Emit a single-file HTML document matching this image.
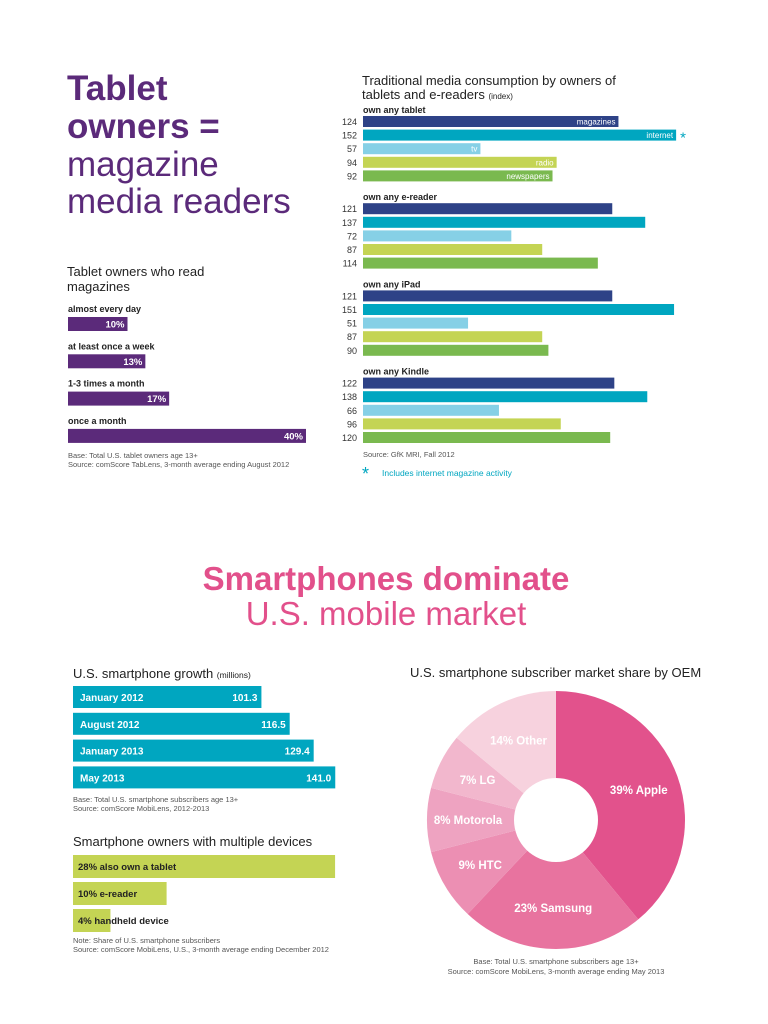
<!DOCTYPE html>
<html><head><meta charset="utf-8"><style>
body{margin:0;background:#fff}
svg{display:block;font-family:"Liberation Sans",sans-serif}
</style></head><body>
<svg id="c" width="768" height="1024" viewBox="0 0 768 1024" xmlns="http://www.w3.org/2000/svg">
<g fill="#5b2a7a" font-size="35">
<text x="67" y="100" font-weight="bold">Tablet</text>
<text x="67" y="138" font-weight="bold">owners =</text>
<text x="67" y="176">magazine</text>
<text x="67" y="213">media readers</text>
</g>
<text x="67" y="276" font-size="13" fill="#222">Tablet owners who read</text>
<text x="67" y="291" font-size="13" fill="#222">magazines</text>
<g id="read"></g>
<text x="68" y="458" font-size="7.5" fill="#555">Base: Total U.S. tablet owners age 13+</text>
<text x="68" y="467" font-size="7.5" fill="#555">Source: comScore TabLens, 3-month average ending August 2012</text>

<text x="362" y="85" font-size="13" fill="#222">Traditional media consumption by owners of</text>
<text x="362" y="99" font-size="13" fill="#222">tablets and e-readers <tspan font-size="8">(index)</tspan></text>
<g id="media"></g>
<text x="363" y="457" font-size="7.5" fill="#555">Source: GfK MRI, Fall 2012</text>
<text x="362" y="480" font-size="18" fill="#00a6c0">*</text>
<text x="382" y="476" font-size="8.5" fill="#00a6c0">Includes internet magazine activity</text>

<text x="386" y="590" text-anchor="middle" font-size="33" font-weight="bold" fill="#e2508b">Smartphones dominate</text>
<text x="386" y="625" text-anchor="middle" font-size="33" fill="#e2508b">U.S. mobile market</text>

<text x="73" y="678" font-size="13" fill="#222">U.S. smartphone growth <tspan font-size="8.5">(millions)</tspan></text>
<g id="growth"></g>
<text x="73" y="802" font-size="7.5" fill="#555">Base: Total U.S. smartphone subscribers age 13+</text>
<text x="73" y="811" font-size="7.5" fill="#555">Source: comScore MobiLens, 2012-2013</text>

<text x="73" y="846" font-size="13" fill="#222">Smartphone owners with multiple devices</text>
<g id="dev"></g>
<text x="73" y="943" font-size="7.5" fill="#555">Note: Share of U.S. smartphone subscribers</text>
<text x="73" y="952" font-size="7.5" fill="#555">Source: comScore MobiLens, U.S., 3-month average ending December 2012</text>

<text x="410" y="677" font-size="13" fill="#222">U.S. smartphone subscriber market share by OEM</text>
<g id="pie"></g>
<text x="556" y="964" text-anchor="middle" font-size="7.5" fill="#555">Base: Total U.S. smartphone subscribers age 13+</text>
<text x="556" y="974" text-anchor="middle" font-size="7.5" fill="#555">Source: comScore MobiLens, 3-month average ending May 2013</text>
</svg>
<script>
const NS="http://www.w3.org/2000/svg";
function mk(p,t,a){const e=document.createElementNS(NS,t);for(const k in a)e.setAttribute(k,a[k]);p.appendChild(e);return e;}
// reading frequency
const readCats=["almost every day","at least once a week","1-3 times a month","once a month"];
const readVals=[10,13,17,40];
// media
const mediaGroups=["own any tablet","own any e-reader","own any iPad","own any Kindle"];
const mediaNames=["magazines","internet","tv","radio","newspapers"];
const mediaVals=[[124,152,57,94,92],[121,137,72,87,114],[121,151,51,87,90],[122,138,66,96,120]];
// growth
const growthCats=["January 2012","August 2012","January 2013","May 2013"];
const growthVals=[101.3,116.5,129.4,141.0];
// devices
const devCats=["also own a tablet","e-reader","handheld device"];
const devVals=[28,10,4];
// pie
const pieCats=["Apple","Samsung","HTC","Motorola","LG","Other"];
const pieVals=[39,23,9,8,7,14];

// reading chart
const rg=document.getElementById('read');
const rx=v=>v*5.95;
readCats.forEach((c,i)=>{
 const y=317+i*37.3;
 let t=mk(rg,'text',{x:68,y:y-5,'font-size':9,'font-weight':'bold',fill:'#222'});t.textContent=c;
 
 
 let r=mk(rg,'rect',{x:68,y:y,width:rx(readVals[i]),height:14,fill:'#5b2a7a'});
 
 
 t=mk(rg,'text',{x:68+rx(readVals[i])-3,y:y+10.5,'font-size':9.5,'font-weight':'bold',fill:'#fff','text-anchor':'end'});t.textContent=readVals[i]+'%';
 
 
});
// media chart
const mg=document.getElementById('media');
const mcol=["#2e4287","#00a6c0","#86d0e6","#c4d454","#7ab94f"];
const mx=v=>v*2.06;
mediaGroups.forEach((g,gi)=>{
 const gy=110+gi*87.2;
 let t=mk(mg,'text',{x:363,y:gy+3,'font-size':9,'font-weight':'bold',fill:'#222'});t.textContent=g;
 
 
 mediaVals[gi].forEach((v,i)=>{
  const y=gy+6+i*13.6;
  let r=mk(mg,'rect',{x:363,y:y,width:mx(v),height:11,fill:mcol[i]});
  
  
  let n=mk(mg,'text',{x:357,y:y+9,'font-size':9,fill:'#333','text-anchor':'end'});n.textContent=v;
  
  
  if(gi===0){
   let l=mk(mg,'text',{x:363+mx(v)-3,y:y+8.5,'font-size':8,fill:'#fff','text-anchor':'end'});l.textContent=mediaNames[i];
   
   
   if(i===1){let a=mk(mg,'text',{x:363+mx(v)+4,y:y+13,'font-size':15,fill:'#00a6c0'});a.textContent='*';
    
    }
  }
 });
});
// growth
const gg=document.getElementById('growth');
const gx=v=>v*1.86;
growthCats.forEach((c,i)=>{
 const y=686+i*26.8;
 let r=mk(gg,'rect',{x:73,y:y,width:gx(growthVals[i]),height:22,fill:'#00a6c0'});
 
 
 let t=mk(gg,'text',{x:80,y:y+15,'font-size':10,'font-weight':'bold',fill:'#fff'});t.textContent=c;
 
 
 t=mk(gg,'text',{x:73+gx(growthVals[i])-4,y:y+15,'font-size':10,'font-weight':'bold',fill:'#fff','text-anchor':'end'});t.textContent=growthVals[i].toFixed(1);
 
 
});
// devices
const dg=document.getElementById('dev');
const dx=v=>v*9.36;
devCats.forEach((c,i)=>{
 const y=855+i*27;
 let r=mk(dg,'rect',{x:73,y:y,width:dx(devVals[i]),height:23,fill:'#c4d454'});
 
 
 let t=mk(dg,'text',{x:78,y:y+15,'font-size':9.5,'font-weight':'bold',fill:'#222'});t.textContent=devVals[i]+'% '+c;
 
 
});
// pie
const pg=document.getElementById('pie');
const pcol=["#e2528c","#e8739f","#ec8fb3","#eea3c1","#f2b7cd","#f7d2de"];
const cx=556,cy=820,R=129,r0=42;
const tot=pieVals.reduce((a,b)=>a+b,0);
let acc=0;
pieVals.forEach((v,i)=>{
 const a0=acc/tot*2*Math.PI-Math.PI/2;acc+=v;const a1=acc/tot*2*Math.PI-Math.PI/2;
 const lg=(a1-a0)>Math.PI?1:0;
 const p=`M${cx+R*Math.cos(a0)},${cy+R*Math.sin(a0)} A${R},${R} 0 ${lg} 1 ${cx+R*Math.cos(a1)},${cy+R*Math.sin(a1)} L${cx},${cy} Z`;
 let s=mk(pg,'path',{d:p,fill:pcol[i]});
 
 
 const am=(a0+a1)/2,lr=88;
 let t=mk(pg,'text',{x:cx+lr*Math.cos(am),y:cy+lr*Math.sin(am)+4,'font-size':11.5,'font-weight':'bold',fill:'#fff','text-anchor':'middle'});
 t.textContent=v+'% '+pieCats[i];
 
 
});
let h=mk(pg,'circle',{cx:cx,cy:cy,r:r0,fill:'#fff'});


</script>
</body></html>
